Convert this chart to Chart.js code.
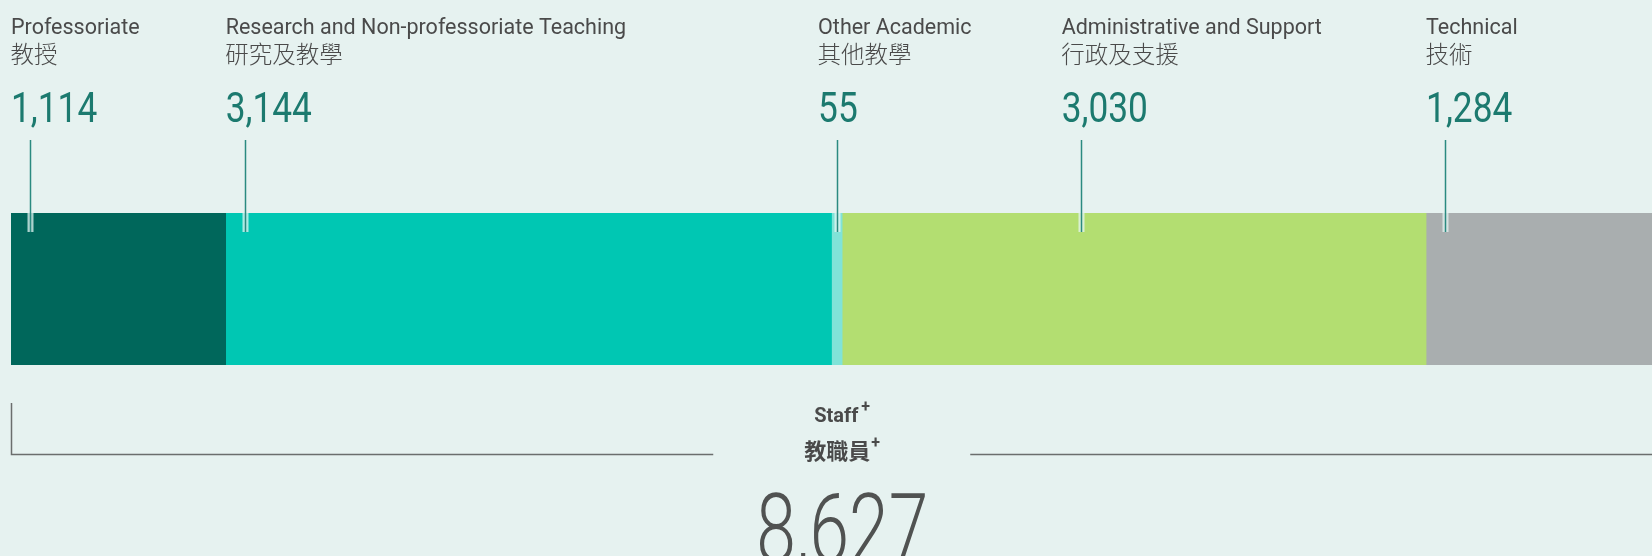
<!DOCTYPE html>
<html lang="en">
<head>
  <meta charset="UTF-8">
  <title>Staff breakdown</title>
  <script src="https://cdn.jsdelivr.net/npm/chart.js"></script>
  <style>
    html, body {
      margin: 0;
      padding: 0;
      width: 1652px;
      height: 556px;
      overflow: hidden;
      background-color: #e6f2f0;
    }
    #wrap {
      position: absolute;
      left: 0;
      top: 0;
      width: 1690px;
      height: 556px;
    }
  </style>
</head>
<body>

  <div id="wrap"><canvas id="staffChart" width="1690" height="556"></canvas></div>

  <script>
    const categoriesEn = ['Professoriate', 'Research and Non-professoriate Teaching', 'Other Academic', 'Administrative and Support', 'Technical'];
    const categoriesZh = ['教授', '研究及教學', '其他教學', '行政及支援', '技術'];
    const staffCounts = [1114, 3144, 55, 3030, 1284];
    const totalLabelEn = 'Staff';
    const totalLabelZh = '教職員';
    const totalStaff = 8627;

    const colours = ['#00675b', '#00c7b3', '#80e3d8', '#b3de71', '#a9aeaf'];
    // label offset (px) from the start of its segment
    const labelShift = [0, 0, -13.5, 219.5, 0];

    const fmt = n => n.toLocaleString('en-US');

    const annotate = {
      id: 'annotate',
      afterDatasetsDraw(chart) {
        const ctx = chart.ctx;
        const x = chart.scales.x;
        const area = chart.chartArea;
        let start = 0;

        ctx.save();
        staffCounts.forEach((v, i) => {
          const lx = x.getPixelForValue(start) + labelShift[i];
          start += v;

          ctx.textAlign = 'left';
          ctx.textBaseline = 'alphabetic';
          ctx.fillStyle = '#4a4a4a';
          ctx.font = '21.5px Roboto';
          ctx.fillText(categoriesEn[i], lx, 33.5);
          ctx.font = '300 23.5px "Noto Sans CJK TC"';
          ctx.fillText(categoriesZh[i], lx - 0.5, 63);

          // numbers, squeezed a little to look like a narrow face
          ctx.save();
          ctx.fillStyle = '#1c7a6f';
          ctx.font = '42px Roboto';
          ctx.translate(lx, 121.5);
          ctx.scale(0.84, 1);
          ctx.fillText(fmt(v), 0, 0);
          ctx.restore();

          // callout line
          const cx = Math.round(lx + 20) - 0.5;
          ctx.strokeStyle = 'rgba(230,246,243,0.75)';
          ctx.lineWidth = 6;
          ctx.beginPath();
          ctx.moveTo(cx, area.top);
          ctx.lineTo(cx, area.top + 19);
          ctx.stroke();
          ctx.strokeStyle = '#2a8a80';
          ctx.lineWidth = 1.5;
          ctx.beginPath();
          ctx.moveTo(cx, 140);
          ctx.lineTo(cx, area.top + 19);
          ctx.stroke();
        });

        // bracket under the bar
        const mid = (area.left + area.right) / 2;
        ctx.strokeStyle = '#6b6e6d';
        ctx.lineWidth = 1.5;
        ctx.beginPath();
        ctx.moveTo(area.left + 0.5, 403);
        ctx.lineTo(area.left + 0.5, 454.5);
        ctx.lineTo(mid - 129, 454.5);
        ctx.moveTo(mid + 128, 454.5);
        ctx.lineTo(1690, 454.5);
        ctx.stroke();

        // total labels
        ctx.fillStyle = '#4a4a4a';
        ctx.textAlign = 'left';
        ctx.font = 'bold 20px Roboto';
        let w = ctx.measureText(totalLabelEn).width;
        ctx.fillText(totalLabelEn, mid - w / 2 - 6, 422);
        ctx.font = 'bold 16px Roboto';
        ctx.fillText('+', mid + w / 2 - 3, 412);

        ctx.font = 'bold 22px "Noto Sans CJK TC"';
        w = ctx.measureText(totalLabelZh).width;
        ctx.fillText(totalLabelZh, mid - w / 2 - 5, 459);
        ctx.font = 'bold 16px Roboto';
        ctx.fillText('+', mid + w / 2 - 4, 448);

        // total number, condensed
        ctx.fillStyle = '#505251';
        ctx.font = '300 97px Roboto';
        const s = fmt(totalStaff);
        w = ctx.measureText(s).width;
        ctx.translate(mid, 562);
        ctx.scale(172 / w, 1);
        ctx.textAlign = 'center';
        ctx.fillText(s, 0, 0);
        ctx.restore();
      }
    };

    new Chart(document.getElementById('staffChart'), {
      type: 'bar',
      data: {
        labels: ['Staff'],
        datasets: staffCounts.map((v, i) => ({
          label: categoriesEn[i],
          data: [v],
          backgroundColor: colours[i],
          borderWidth: 0,
          barPercentage: 1,
          categoryPercentage: 1
        }))
      },
      options: {
        indexAxis: 'y',
        responsive: false,
        devicePixelRatio: 1,
        animation: false,
        layout: { padding: { left: 11, right: 16.5, top: 213, bottom: 191 } },
        plugins: { legend: { display: false }, tooltip: { enabled: false } },
        scales: {
          x: { stacked: true, display: false, min: 0, max: totalStaff },
          y: { stacked: true, display: false }
        }
      },
      plugins: [annotate]
    });
  </script>

</body>
</html>
